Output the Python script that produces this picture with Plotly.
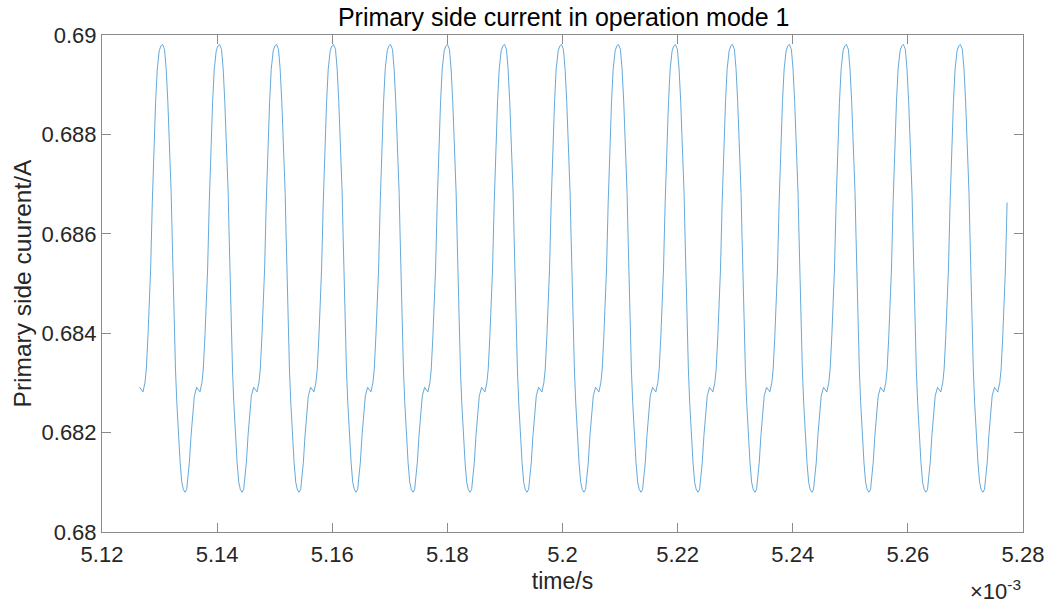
import plotly.graph_objects as go

# ---- axis ticks (time in units of 1e-3 s) ----
x_tick_vals = [5.12, 5.14, 5.16, 5.18, 5.20, 5.22, 5.24, 5.26, 5.28]
x_tick_text = ["5.12", "5.14", "5.16", "5.18", "5.2", "5.22", "5.24", "5.26", "5.28"]
y_tick_vals = [0.680, 0.682, 0.684, 0.686, 0.688, 0.690]
y_tick_text = ["0.68", "0.682", "0.684", "0.686", "0.688", "0.69"]

# ---- measured peak times of each cycle (x 1e-3 s) ----
peak_times = [5.13052, 5.14042, 5.15032, 5.16022, 5.17012, 5.18002, 5.18992,
              5.19982, 5.20972, 5.21962, 5.22952, 5.23942, 5.24932, 5.25922, 5.26912]

# ---- one cycle: time after the peak, current (A) ----
cycle_offset = [0.0, 0.000345, 0.000633, 0.000921, 0.001209, 0.001497, 0.001669,
                0.001842, 0.002072, 0.002245, 0.002475, 0.002763, 0.003051, 0.003338,
                0.003626, 0.003914, 0.004202, 0.004374, 0.004662, 0.004950, 0.005238,
                0.005526, 0.005928, 0.006274, 0.006504, 0.006849, 0.007080, 0.007367,
                0.007655, 0.007828, 0.008116, 0.008403, 0.008691, 0.008979, 0.009324,
                0.009612]
cycle_current = [0.68981, 0.68971, 0.68931, 0.68864, 0.68777, 0.68683, 0.68596,
                 0.68495, 0.68395, 0.68328, 0.68261, 0.68194, 0.68140, 0.68100,
                 0.68085, 0.68080, 0.68086, 0.68107, 0.68140, 0.68194, 0.68241,
                 0.68274, 0.68291, 0.68284, 0.68282, 0.68301, 0.68328, 0.68395,
                 0.68475, 0.68529, 0.68663, 0.68777, 0.68864, 0.68931, 0.68968,
                 0.68978]

# ---- partial segment before the first peak ----
lead_in_time = [5.12655, 5.12690, 5.12713, 5.12747, 5.12770, 5.12799, 5.12828,
                5.12845, 5.12874, 5.12902, 5.12931, 5.12960, 5.12994, 5.13023]
lead_in_current = [0.68291, 0.68284, 0.68282, 0.68301, 0.68328, 0.68395, 0.68475,
                   0.68529, 0.68663, 0.68777, 0.68864, 0.68931, 0.68968, 0.68978]

end_time = 5.2773

# assemble the trace
t_all = list(lead_in_time)
i_all = list(lead_in_current)
for p in peak_times:
    for dt, v in zip(cycle_offset, cycle_current):
        tt = p + dt
        if tt <= end_time:
            t_all.append(tt)
            i_all.append(v)

FONT = "Liberation Sans, Arial, Helvetica, sans-serif"
TXT = "#262626"
AX = "#8a8a8a"

fig = go.Figure()
fig.add_trace(go.Scatter(x=t_all, y=i_all, mode="lines",
                         line=dict(color="#3d93d1", width=0.8),
                         showlegend=False, hoverinfo="skip"))

axis_common = dict(showline=True, linecolor=AX, linewidth=1, mirror="allticks",
                   ticks="inside", ticklen=9, tickcolor=AX, tickwidth=1,
                   showgrid=False, zeroline=False,
                   tickfont=dict(family=FONT, size=22, color=TXT))

fig.update_xaxes(range=[5.12, 5.28], tickmode="array", tickvals=x_tick_vals,
                 ticktext=x_tick_text, ticklabelstandoff=3,
                 title=dict(text="time/s", font=dict(family=FONT, size=23, color=TXT),
                            standoff=6),
                 **axis_common)
fig.update_yaxes(range=[0.68, 0.69], tickmode="array", tickvals=y_tick_vals,
                 ticktext=y_tick_text,
                 title=dict(text="Primary side cuurent/A",
                            font=dict(family=FONT, size=24.5, color=TXT), standoff=2),
                 **axis_common)

fig.add_annotation(text="×10<sup>-3</sup>", xref="paper", yref="paper",
                   x=1.0, y=-0.116, xanchor="right", yanchor="middle",
                   showarrow=False, font=dict(family=FONT, size=22, color=TXT))

fig.update_layout(
    width=1056, height=605,
    margin=dict(l=102, r=31, t=35, b=73),
    paper_bgcolor="white", plot_bgcolor="white",
    title=dict(text="Primary side current in operation mode 1",
               x=0.5338, xanchor="center", y=0.971, yanchor="middle",
               yref="container",
               font=dict(family=FONT, size=25, color="#000000")),
)

fig.write_html("out.html")
